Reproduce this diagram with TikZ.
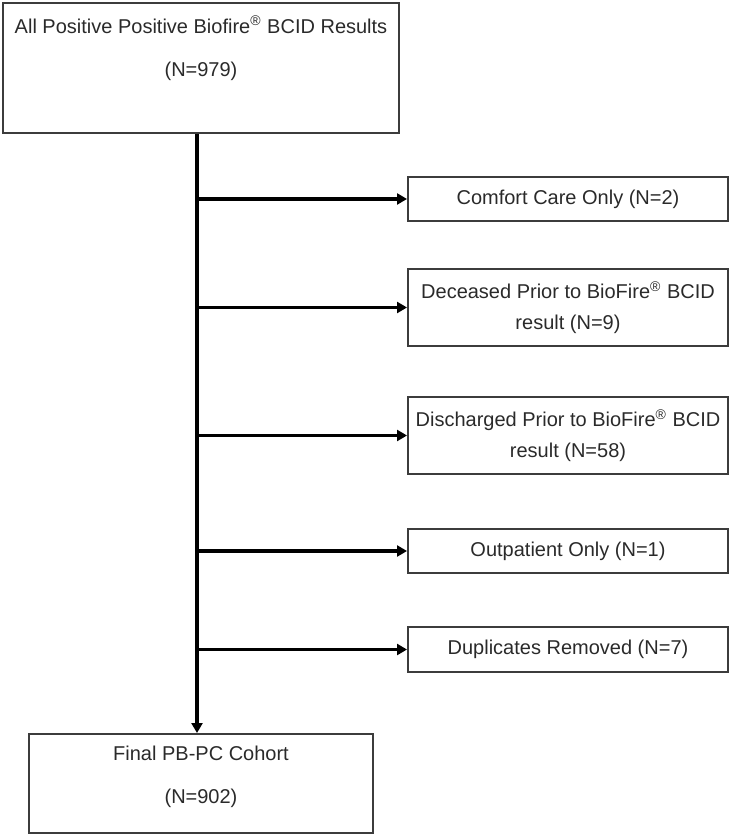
\documentclass[tikz,border=0pt]{standalone}
\usepackage{fontspec}
\setmainfont{Liberation Sans}
\usepackage{xcolor}
\usetikzlibrary{positioning}
\usetikzlibrary{arrows.meta}
\definecolor{boxline}{HTML}{3C3C3C}
\definecolor{boxink}{HTML}{2A2A2A}

\begin{document}
\begin{tikzpicture}[x=0.5pt, y=-0.5pt,
                    every node/.style={text=boxink, font=\fontsize{10}{15.5}\selectfont},
                    stagebox/.style={draw=boxline, line width=1pt, inner sep=0pt},
                    stagetext/.style={align=center, font=\fontsize{10}{21.5}\selectfont},
                    exclbox/.style={draw=boxline, line width=1pt, minimum width=160pt,
                                    align=center, inner sep=0pt},
                    flow/.style={line width=1.9pt, -{Triangle[length=5pt, width=5.5pt]}}]

  \useasboundingbox (0,0) rectangle (733,838);

  \node[stagebox, minimum width=198pt, minimum height=65pt]   (all)   at (201,68)    {};
  \node[stagebox, minimum width=172pt, minimum height=49.5pt] (final) at (201,783.5) {};
  \node[stagetext, below=3.5pt of all.north] (alltext)
    {All Positive Positive Biofire\textsuperscript{®} BCID Results\\(N=979)};
  \node[stagetext, below=3pt of final.north] (finaltext)
    {Final PB-PC Cohort\\(N=902)};

  \node[exclbox, minimum height=22pt]   (comfort)    at (568,199)
    {Comfort Care Only (N=2)};
  \node[exclbox, minimum height=38.5pt] (deceased)   at (568,307.5)
    {Deceased Prior to BioFire\textsuperscript{®} BCID\\result (N=9)};
  \node[exclbox, minimum height=38.5pt] (discharged) at (568,435.5)
    {Discharged Prior to BioFire\textsuperscript{®} BCID\\result (N=58)};
  \node[exclbox, minimum height=22pt]   (outpatient) at (568,551)
    {Outpatient Only (N=1)};
  \node[exclbox, minimum height=22.5pt] (duplicates) at (568,649.5)
    {Duplicates Removed (N=7)};

  \coordinate (spine) at (197,0);

  \path[flow]
    (all.south -| spine)       edge (final.north -| spine)
    (comfort.west -| spine)    edge (comfort.west)
    (deceased.west -| spine)   edge (deceased.west)
    (discharged.west -| spine) edge (discharged.west)
    (outpatient.west -| spine) edge (outpatient.west)
    (duplicates.west -| spine) edge (duplicates.west);

\end{tikzpicture}
\end{document}
